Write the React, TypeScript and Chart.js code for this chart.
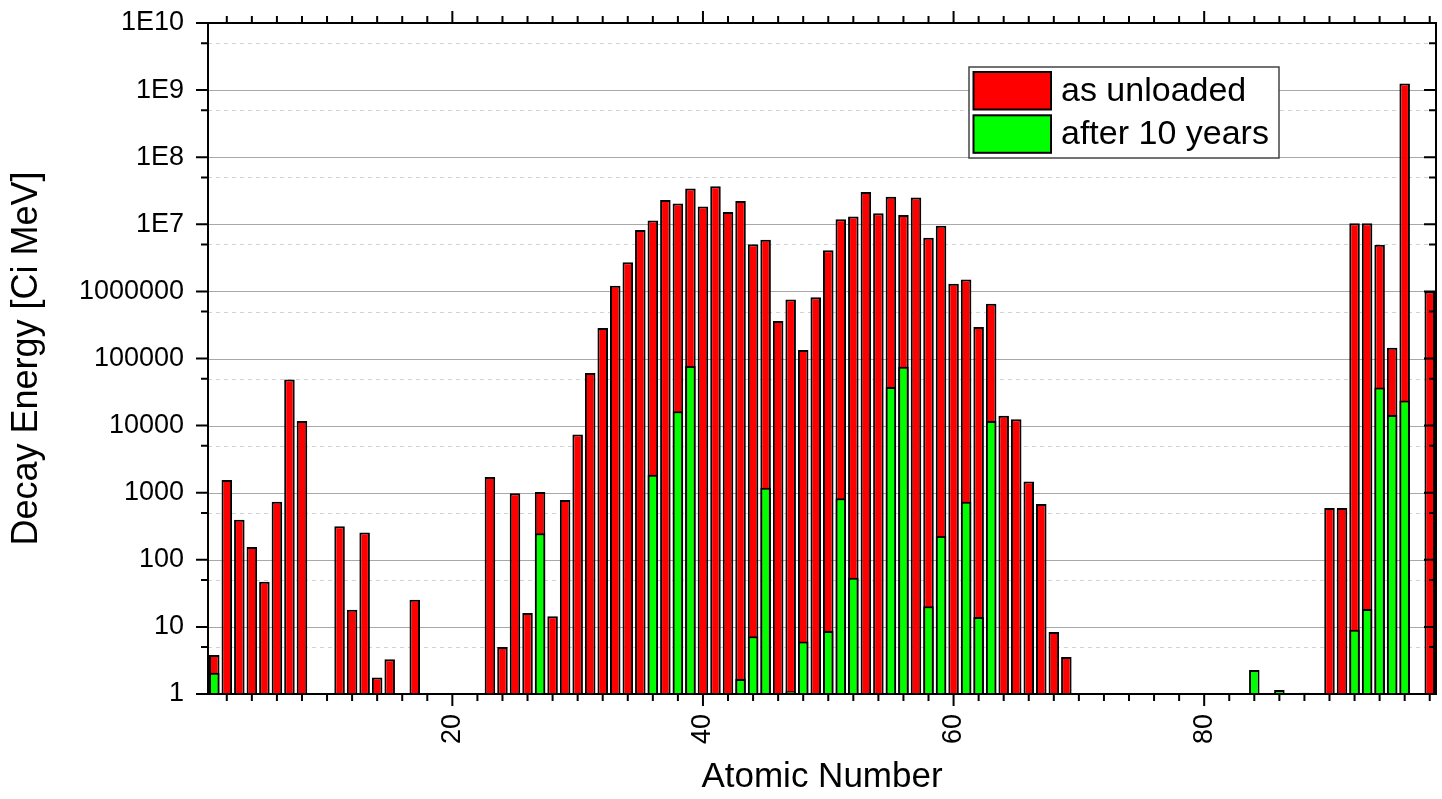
import React, { useEffect, useRef } from 'react';
import { Chart, registerables } from 'chart.js';

Chart.register(...registerables);

// Atomic numbers and decay energies [Ci MeV] "as unloaded"
const unloadedZ = [
  1, 2, 3, 4, 5, 6, 7, 8, 11, 12, 13, 14, 15, 17,
  23, 24, 25, 26, 27, 28, 29, 30, 31, 32, 33, 34, 35, 36, 37, 38, 39, 40,
  41, 42, 43, 44, 45, 46, 47, 48, 49, 50, 51, 52, 53, 54, 55, 56, 57, 58,
  59, 60, 61, 62, 63, 64, 65, 66, 67, 68, 69,
  90, 91, 92, 93, 94, 95, 96, 98,
];
const unloadedValues = [
  3.8, 1550, 395, 155, 47, 735, 48500, 11700, 315, 18, 256, 1.76, 3.3, 25.3,
  1710, 5.0, 985, 16.1, 1028, 14.4, 780, 7360, 60800, 286000, 1210000, 2730000, 8200000, 11400000, 23100000, 20500000, 34300000, 18400000,
  36900000, 15300000, 22300000, 5030000, 5870000, 363000, 755000, 134000, 821000, 4100000, 11900000, 13100000, 30400000, 14600000, 25700000, 13800000, 25100000, 6310000,
  9500000, 1300000, 1500000, 296000, 654000, 14060, 12470, 1473, 676, 8.4, 3.57,
  591, 591, 10350000, 10350000, 4940000, 144000, 1250000000, 1000000,
];

// Atomic numbers and decay energies [Ci MeV] "after 10 years"
const after10Z = [
  1, 27, 36, 38, 39, 43, 44, 45, 47, 48, 50, 51, 52, 55, 56, 58, 59, 61, 62, 63,
  84, 86, 88, 92, 93, 94, 95, 96,
];
const after10Values = [
  2.08, 249, 1850, 16400, 77300, 1.67, 7.24, 1188, 1.1, 6.05, 8.67, 828, 54, 37600, 75500, 20.3, 227, 735, 14, 11740,
  2.27, 1.15, 1.04, 9.06, 18.5, 37100, 14350, 23700,
];

const seriesLabels = ['as unloaded', 'after 10 years'];
const seriesColors = ['#ff0000', '#00ff00'];

const xMajorTicks = [20, 40, 60, 80];
const yTickValues = [1, 10, 100, 1000, 10000, 100000, 1000000, 1e7, 1e8, 1e9, 1e10];
const yTickLabels = ['1', '10', '100', '1000', '10000', '100000', '1000000', '1E7', '1E8', '1E9', '1E10'];
const yMinorTickValues = [5, 50, 500, 5000, 50000, 500000, 5000000, 5e7, 5e8, 5e9];

const xTitle = 'Atomic Number';
const yTitle = 'Decay Energy [Ci MeV]';

const FONT = "'Liberation Sans', Arial, sans-serif";

const framePlugin = {
  id: 'originFrame',
  beforeDatasetsDraw(chart: any) {
    const { ctx, chartArea, scales } = chart;
    const { left, right } = chartArea;
    const y = scales.y;
    ctx.save();
    ctx.lineWidth = 1;
    ctx.strokeStyle = '#a8a8a8';
    for (let i = 1; i < yTickValues.length - 1; i++) {
      const py = Math.round(y.getPixelForValue(yTickValues[i])) + 0.5;
      ctx.beginPath();
      ctx.moveTo(left, py);
      ctx.lineTo(right, py);
      ctx.stroke();
    }
    ctx.setLineDash([4, 4]);
    ctx.strokeStyle = '#d2d2d2';
    for (const v of yMinorTickValues) {
      const py = Math.round(y.getPixelForValue(v)) + 0.5;
      ctx.beginPath();
      ctx.moveTo(left, py);
      ctx.lineTo(right, py);
      ctx.stroke();
    }
    ctx.restore();
  },
  afterDraw(chart: any) {
    const { ctx, chartArea, scales } = chart;
    const { left, right, top, bottom } = chartArea;
    const x = scales.x;
    const y = scales.y;
    ctx.save();
    ctx.strokeStyle = '#000';
    ctx.lineWidth = 2;
    ctx.strokeRect(left, top, right - left, bottom - top);
    ctx.beginPath();
    for (const v of yTickValues) {
      const py = y.getPixelForValue(v);
      ctx.moveTo(left - 12, py);
      ctx.lineTo(left, py);
      ctx.moveTo(right - 12, py);
      ctx.lineTo(right, py);
    }
    for (const v of yMinorTickValues) {
      const py = y.getPixelForValue(v);
      ctx.moveTo(left - 7, py);
      ctx.lineTo(left, py);
      ctx.moveTo(right - 7, py);
      ctx.lineTo(right, py);
    }
    for (let n = 2; n <= x.max; n += 2) {
      const px = x.getPixelForValue(n);
      const len = xMajorTicks.includes(n) ? 12 : 7;
      ctx.moveTo(px, bottom);
      ctx.lineTo(px, bottom + len);
      ctx.moveTo(px, top - len);
      ctx.lineTo(px, top);
    }
    ctx.stroke();

    // legend box inside the plot area
    const lx = right - 467;
    const ly = top + 44;
    const lw = 310;
    const lh = 91;
    ctx.fillStyle = '#fff';
    ctx.fillRect(lx, ly, lw, lh);
    ctx.lineWidth = 1.5;
    ctx.strokeStyle = '#444';
    ctx.strokeRect(lx, ly, lw, lh);
    chart.data.datasets.forEach((ds: any, i: number) => {
      const sx = lx + 4.5;
      const sy = ly + 5 + i * 43.3;
      ctx.fillStyle = ds.backgroundColor;
      ctx.fillRect(sx, sy, 77.5, 37.5);
      ctx.lineWidth = 2;
      ctx.strokeStyle = '#000';
      ctx.strokeRect(sx, sy, 77.5, 37.5);
      ctx.fillStyle = '#000';
      ctx.font = `34px ${FONT}`;
      ctx.textAlign = 'left';
      ctx.textBaseline = 'middle';
      ctx.fillText(ds.label, lx + 92, sy + 19.5);
    });
    ctx.restore();
  },
};

export default function App() {
  const canvasRef = useRef<HTMLCanvasElement | null>(null);

  useEffect(() => {
    document.body.style.margin = '0';
    const canvas = canvasRef.current;
    if (!canvas) return;

    const makeData = (zs: number[], vals: number[]) => zs.map((z, i) => ({ x: z, y: vals[i] }));

    const chart = new Chart(canvas, {
      type: 'bar',
      data: {
        datasets: [
          {
            label: seriesLabels[0],
            data: makeData(unloadedZ, unloadedValues),
            backgroundColor: seriesColors[0],
            borderColor: '#000',
            borderWidth: 2,
            grouped: false,
            barPercentage: 0.84,
            categoryPercentage: 1,
            order: 2,
          } as any,
          {
            label: seriesLabels[1],
            data: makeData(after10Z, after10Values),
            backgroundColor: seriesColors[1],
            borderColor: '#000',
            borderWidth: 2,
            grouped: false,
            barPercentage: 0.84,
            categoryPercentage: 1,
            order: 1,
          } as any,
        ],
      },
      options: {
        responsive: false,
        animation: false,
        events: [],
        layout: { padding: { top: 23, right: 6, left: 0, bottom: 0 } },
        plugins: {
          legend: { display: false },
          tooltip: { enabled: false },
        },
        scales: {
          x: {
            type: 'linear',
            min: 0.5,
            max: 98.5,
            offset: false,
            grid: { display: false, drawTicks: false },
            border: { display: false },
            afterBuildTicks: (s: any) => {
              s.ticks = xMajorTicks.map((v) => ({ value: v }));
            },
            afterFit: (s: any) => {
              s.height = 105;
              s.paddingLeft = 0;
              s.paddingRight = 0;
              s.paddingTop = 0;
              s.paddingBottom = 0;
            },
            ticks: {
              autoSkip: false,
              minRotation: 90,
              maxRotation: 90,
              padding: 20,
              color: '#000',
              font: { family: FONT, size: 27 },
              callback: (v: any) => String(v),
            },
            title: {
              display: true,
              text: xTitle,
              color: '#000',
              font: { family: FONT, size: 35 },
              padding: { top: 0, bottom: 1 },
            },
          },
          y: {
            type: 'logarithmic',
            min: 1,
            max: 1e10,
            beginAtZero: false,
            grid: { display: false, drawTicks: false },
            border: { display: false },
            afterBuildTicks: (s: any) => {
              s.ticks = yTickValues.map((v) => ({ value: v }));
            },
            afterFit: (s: any) => {
              s.width = 208;
              s.paddingLeft = 0;
              s.paddingRight = 0;
              s.paddingTop = 0;
              s.paddingBottom = 0;
            },
            ticks: {
              padding: 24,
              color: '#000',
              font: { family: FONT, size: 27 },
              callback: (_v: any, i: number) => yTickLabels[i],
            },
            title: {
              display: true,
              text: yTitle,
              color: '#000',
              font: { family: FONT, size: 36 },
              padding: { top: 5, bottom: 0 },
            },
          },
        },
      } as any,
      plugins: [framePlugin],
    });

    return () => chart.destroy();
  }, []);

  return (
    <div style={{ width: 1442, height: 799, background: '#fff' }}>
      <canvas ref={canvasRef} width={1442} height={799} style={{ display: 'block' }} />
    </div>
  );
}
